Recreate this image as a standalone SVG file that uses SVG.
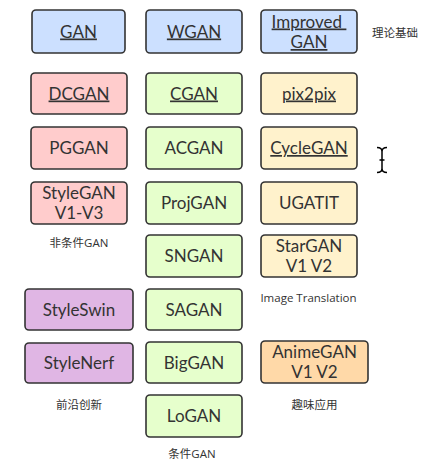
<svg xmlns="http://www.w3.org/2000/svg" width="431" height="468" viewBox="0 0 431 468">
<style>
rect.n{stroke:#333;stroke-width:1.6;rx:4;ry:4}
.b{fill:#cce0ff}.p{fill:#ffcccc}.g{fill:#e6ffcc}.y{fill:#fff2cc}.v{fill:#e0b6e4}.o{fill:#ffd9a8}
text{font-family:Lato,"Noto Sans CJK SC",sans-serif;fill:#333;text-anchor:middle}
text.t{font-size:17px}
text.u{text-decoration:underline}
text.l{font-size:11.5px;font-family:"Open Sans","Noto Sans CJK SC",sans-serif}
</style>
<rect width="431" height="468" fill="#fff"/>
<g id="connectors"/>
<g id="GAN"><rect class="n b" x="32" y="10" width="93" height="43"/><text class="t u" x="78.5" y="37.5">GAN</text></g>
<g id="WGAN"><rect class="n b" x="146" y="10" width="96" height="43"/><text class="t u" x="194" y="37.5">WGAN</text></g>
<g id="ImprovedGAN"><rect class="n b" x="261" y="10" width="96" height="43"/><text class="t u" x="309" y="27.5">Improved <tspan x="309" dy="20.5">GAN</tspan></text></g>
<g id="DCGAN"><rect class="n p" x="31" y="73" width="96" height="41"/><text class="t u" x="79" y="99.5">DCGAN</text></g>
<g id="CGAN"><rect class="n g" x="146" y="73" width="96" height="41"/><text class="t u" x="194" y="99.5">CGAN</text></g>
<g id="pix2pix"><rect class="n y" x="261" y="73" width="96" height="41"/><text class="t u" x="309" y="99.5">pix2pix</text></g>
<g id="PGGAN"><rect class="n p" x="31" y="127" width="96" height="42"/><text class="t" x="79" y="154">PGGAN</text></g>
<g id="ACGAN"><rect class="n g" x="146" y="127" width="96" height="42"/><text class="t" x="194" y="154">ACGAN</text></g>
<g id="CycleGAN"><rect class="n y" x="261" y="127" width="96" height="42"/><text class="t u" x="309" y="154">CycleGAN</text></g>
<g id="StyleGAN"><rect class="n p" x="31" y="182" width="96" height="42"/><text class="t" x="79" y="198.5">StyleGAN<tspan x="79" dy="20.5">V1-V3</tspan></text></g>
<g id="ProjGAN"><rect class="n g" x="146" y="182" width="96" height="42"/><text class="t" x="194" y="209">ProjGAN</text></g>
<g id="UGATIT"><rect class="n y" x="261" y="182" width="96" height="42"/><text class="t" x="309" y="209">UGATIT</text></g>
<g id="SNGAN"><rect class="n g" x="146" y="235" width="96" height="42"/><text class="t" x="194" y="262">SNGAN</text></g>
<g id="StarGAN"><rect class="n y" x="261" y="235" width="96" height="42"/><text class="t" x="309" y="251.5">StarGAN<tspan x="309" dy="20.5">V1 V2</tspan></text></g>
<g id="StyleSwin"><rect class="n v" x="25" y="289" width="108" height="41"/><text class="t" x="79" y="315.5">StyleSwin</text></g>
<g id="SAGAN"><rect class="n g" x="146" y="289" width="96" height="41"/><text class="t" x="194" y="315.5">SAGAN</text></g>
<g id="StyleNerf"><rect class="n v" x="25" y="343" width="108" height="40"/><text class="t" x="79" y="369">StyleNerf</text></g>
<g id="BigGAN"><rect class="n g" x="146" y="342" width="96" height="41"/><text class="t" x="194" y="368.5">BigGAN</text></g>
<g id="AnimeGAN"><rect class="n o" x="261" y="341" width="107" height="42"/><text class="t" x="314.5" y="357.5">AnimeGAN<tspan x="314.5" dy="20.5">V1 V2</tspan></text></g>
<g id="LoGAN"><rect class="n g" x="146" y="395" width="96" height="42"/><text class="t" x="194" y="422">LoGAN</text></g>
<g id="labels">
<text class="l" x="395" y="37">理论基础</text>
<text class="l" x="79" y="247">非条件GAN</text>
<text class="l" x="308.5" y="302">Image Translation</text>
<text class="l" x="79" y="409">前沿创新</text>
<text class="l" x="314.5" y="409">趣味应用</text>
<text class="l" x="192" y="458">条件GAN</text>
</g>
<path d="M377 147.5q5 0 5 4v17q0 4 -5 4M387 147.5q-5 0 -5 4v17q0 4 5 4M379.5 160h5" fill="none" stroke="#000" stroke-width="1.5"/>
</svg>
